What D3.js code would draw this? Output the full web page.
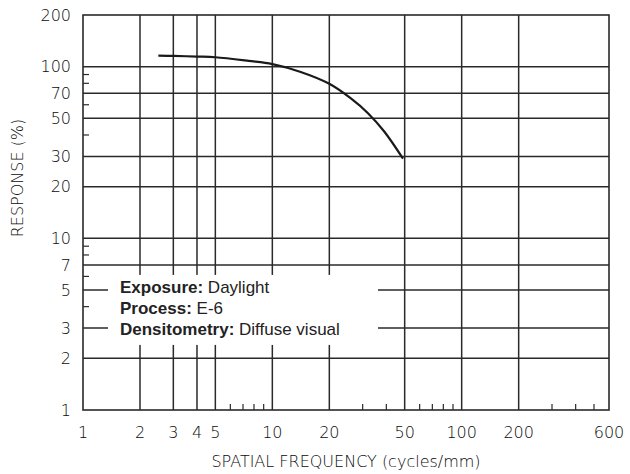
<!DOCTYPE html>
<html>
<head>
<meta charset="utf-8">
<script src="https://cdn.jsdelivr.net/npm/d3@7"></script>
<style>
  body { margin: 0; background: #fff; }
  .tick-label { font-family: 'DejaVu Sans', sans-serif; font-weight: 200; font-size: 16px; fill: #0a0a0a; }
  .axis-title { font-family: 'DejaVu Sans', sans-serif; font-weight: 200; font-size: 16px; fill: #0a0a0a; }
  .legend { font-family: 'Liberation Sans', Arial, sans-serif; font-size: 17px; fill: #222; }
  .legend .key { font-weight: bold; }
</style>
</head>
<body>
<div id="chart"></div>
<script>
(function () {
  'use strict';

  // MTF curve
  var frequency = [2.5, 3, 4, 5, 7.5, 10, 14, 20, 26, 32, 39, 49];
  var response = [116, 115.5, 114.5, 113.5, 108, 103.5, 93.5, 79.5, 65.3, 53.6, 41.9, 29.1];

  var xTickValues = [1, 2, 3, 4, 5, 10, 20, 50, 100, 200, 600];
  var xGridValues = [2, 3, 4, 5, 10, 20, 50, 100, 200];
  var xMinorTicks = [6, 7, 8, 9, 30, 40, 60, 70, 80, 90, 300, 400, 500];

  var yTickValues = [1, 2, 3, 5, 7, 10, 20, 30, 50, 70, 100, 200];
  var yGridValues = [2, 3, 5, 7, 10, 20, 30, 50, 70, 100];
  var yMinorTicks = [4, 6, 8, 9, 40, 60, 80, 90];

  var legendItems = [
    ['Exposure:', 'Daylight'],
    ['Process:', 'E-6'],
    ['Densitometry:', 'Diffuse visual']
  ];

  var w = 630;
  var h = 474;
  var left = 83;
  var right = 609;
  var top = 15;
  var bottom = 410;

  var x = d3.scaleLog().domain([1, 600]).range([left, right]);
  var y = d3.scaleLog().domain([1, 200]).range([bottom, top]);

  var svg = d3.select('#chart')
    .append('svg')
    .attr('width', w)
    .attr('height', h);

  var grid = svg.append('g')
    .attr('stroke', '#2a2a2a')
    .attr('stroke-width', 1.5);

  grid.selectAll('line.vgrid')
    .data(xGridValues).enter()
    .append('line')
    .attr('class', 'vgrid')
    .attr('x1', function (d) { return x(d); })
    .attr('x2', function (d) { return x(d); })
    .attr('y1', top)
    .attr('y2', bottom);

  grid.selectAll('line.hgrid')
    .data(yGridValues).enter()
    .append('line')
    .attr('class', 'hgrid')
    .attr('x1', left)
    .attr('x2', right)
    .attr('y1', function (d) { return y(d); })
    .attr('y2', function (d) { return y(d); });

  // short ticks along the bottom and left edges
  grid.selectAll('line.xminor')
    .data(xMinorTicks).enter()
    .append('line')
    .attr('class', 'xminor')
    .attr('x1', function (d) { return x(d); })
    .attr('x2', function (d) { return x(d); })
    .attr('y1', bottom)
    .attr('y2', bottom - 6)
    .attr('stroke-width', 1.2);

  grid.selectAll('line.yminor')
    .data(yMinorTicks).enter()
    .append('line')
    .attr('class', 'yminor')
    .attr('x1', left)
    .attr('x2', left + 6)
    .attr('y1', function (d) { return y(d); })
    .attr('y2', function (d) { return y(d); })
    .attr('stroke-width', 1.2);

  // white patch behind the legend text cuts the grid
  svg.append('rect')
    .attr('x', left + 25)
    .attr('y', y(7) + 10)
    .attr('width', 270)
    .attr('height', 70)
    .attr('fill', '#fff');

  svg.append('rect')
    .attr('x', left)
    .attr('y', top)
    .attr('width', right - left)
    .attr('height', bottom - top)
    .attr('fill', 'none')
    .attr('stroke', '#2a2a2a')
    .attr('stroke-width', 1.6);

  var line = d3.line()
    .x(function (d) { return x(d[0]); })
    .y(function (d) { return y(d[1]); })
    .curve(d3.curveCatmullRom);

  svg.append('path')
    .datum(d3.zip(frequency, response))
    .attr('d', line)
    .attr('fill', 'none')
    .attr('stroke', '#1a1a1a')
    .attr('stroke-width', 2.2);

  svg.selectAll('text.xlabel')
    .data(xTickValues).enter()
    .append('text')
    .attr('class', 'tick-label xlabel')
    .attr('x', function (d) { return x(d); })
    .attr('y', bottom + 28)
    .attr('text-anchor', 'middle')
    .text(function (d) { return d; });

  svg.selectAll('text.ylabel')
    .data(yTickValues).enter()
    .append('text')
    .attr('class', 'tick-label ylabel')
    .attr('x', left - 12)
    .attr('y', function (d) { return y(d); })
    .attr('dy', '0.35em')
    .attr('text-anchor', 'end')
    .text(function (d) { return d; });

  svg.append('text')
    .attr('class', 'axis-title')
    .attr('x', (left + right) / 2)
    .attr('y', h - 7)
    .attr('text-anchor', 'middle')
    .text('SPATIAL FREQUENCY (cycles/mm)');

  svg.append('text')
    .attr('class', 'axis-title')
    .attr('transform', 'translate(23,' + 178 + ') rotate(-90)')
    .attr('text-anchor', 'middle')
    .text('RESPONSE (%)');

  var legend = svg.append('g').attr('class', 'legend');
  legendItems.forEach(function (item, i) {
    var t = legend.append('text')
      .attr('x', 120)
      .attr('y', y(5) + 3 + i * 21);
    t.append('tspan').attr('class', 'key').text(item[0]);
    t.append('tspan').text(' ' + item[1]);
  });
})();
</script>
</body>
</html>
